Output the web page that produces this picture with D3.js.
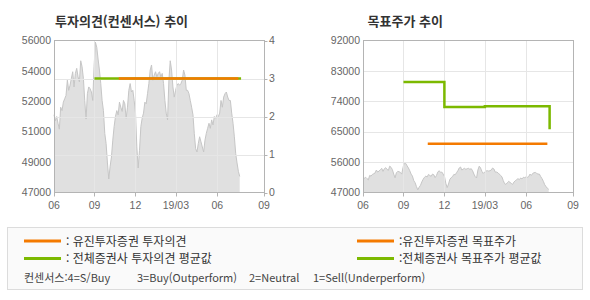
<!DOCTYPE html>
<html lang="ko">
<head>
<meta charset="utf-8">
<title>투자의견 / 목표주가 추이</title>
<script src="https://d3js.org/d3.v7.min.js"></script>
<style>
  body { margin: 0; background: #fff; }
  .ax { font-family: "Liberation Sans", Arial, sans-serif; font-size: 10.5px; fill: #666; }
  .kr { font-family: "Noto Sans CJK KR", sans-serif; }
</style>
</head>
<body>
<script>
var w = 590, h = 300;

// share price, sampled about every 3 days (Jun 2018 - Jul 2019)
var priceStart = "2018-06-03", priceEnd = "2019-07-21";
var prices = [
  51600, 51250, 51500, 51100, 50750, 52050, 51850, 52350, 52550, 52750,
  53650, 53050, 53350, 53750, 54150, 53250, 54050, 54350, 53850, 53550,
  54800, 54450, 53750, 52450, 51350, 52850, 53250, 53150, 52950, 52450,
  54450, 55900, 55600, 54900, 54250, 53450, 52450, 51850, 50500, 49900,
  48750, 47800, 48550, 49100, 50100, 50900, 51500, 51850, 51600, 52350,
  52050, 51800, 52450, 52250, 51400, 52050, 53050, 53450, 52950, 53050,
  52450, 51700, 49700, 48450, 49500, 50900, 51400, 51700, 52350, 52250,
  52850, 53450, 54250, 54550, 53650, 53950, 54150, 53850, 54050, 54150,
  53850, 54050, 53450, 52450, 51700, 51300, 53650, 54800, 54250, 53250,
  52650, 53050, 53350, 53450, 53350, 53450, 53650, 54250, 53950, 53050,
  53050, 52850, 52450, 52050, 51600, 50500, 49600, 49400, 49900, 50300,
  50000, 49700, 49400, 50100, 50500, 50800, 51100, 50800, 51300, 51000,
  51500, 51400, 51600, 51500, 51700, 52450, 52050, 52650, 52850, 52950,
  52650, 52450, 52450, 51700, 51100, 50300, 49300, 48750, 48250, 47950
];

// x axis
var xDomain = ["2018-06-03", "2019-09-13"];
var xTickDates = ["2018-06-03", "2018-09-01", "2018-12-01", "2019-03-01", "2019-06-01", "2019-09-13"];
var xTickLabels = ["06", "09", "12", "19/03", "06", "09"];

// y ticks
var priceTicks = [47000, 48800, 50600, 52400, 54200, 56000];
var opinionTicks = [0, 1, 2, 3, 4];
var targetTicks = [47000, 56000, 65000, 74000, 83000, 92000];

// opinion (4=S/Buy ... 1=Sell)
var eugeneOpinionDates = ["2018-10-25", "2019-07-18"];
var eugeneOpinion = [3, 3];
var avgOpinionDates = ["2018-09-01", "2019-07-24"];
var avgOpinion = [3, 3];

// target price
var eugeneTargetDates = ["2018-10-25", "2019-07-18"];
var eugeneTarget = [61400, 61400];
var avgTargetDates = ["2018-09-01", "2018-12-01", "2019-03-01", "2019-07-23"];
var avgTarget = [79700, 72300, 72500, 65700];

var orange = "#f47a00", green = "#7cb900";
var parse = d3.timeParse("%Y-%m-%d");

var t0 = parse(priceStart), t1 = parse(priceEnd);
var priceData = prices.map(function(v, i) {
  return { date: new Date(+t0 + (t1 - t0) * i / (prices.length - 1)), v: v };
});
function pairs(dates, vals) {
  return dates.map(function(d, i) { return { date: parse(d), v: vals[i] }; });
}

var svg = d3.select("body").append("svg")
  .attr("width", w).attr("height", h);

var plotTop = 40.5, plotBottom = 192.5;

function panel(left, yScale, hGrid, title, titleX) {
  var x = d3.scaleTime().domain(xDomain.map(parse)).range([left, left + 210]);
  var g = svg.append("g");

  g.append("text").attr("class", "kr")
    .attr("x", titleX).attr("y", 25.5)
    .attr("font-size", "13px").attr("font-weight", "bold").attr("fill", "#333")
    .text(title);

  // price area
  var area = d3.area().x(d => x(d.date)).y0(plotBottom).y1(d => yScale.price(d.v));
  g.append("path").datum(priceData).attr("d", area).attr("fill", "#e0e0e0");
  g.append("path").datum(priceData)
    .attr("d", d3.line().x(d => x(d.date)).y(d => yScale.price(d.v)))
    .attr("fill", "none").attr("stroke", "#c6c6c6").attr("stroke-width", 1);

  // grid
  g.selectAll(".hg").data(hGrid).enter().append("line")
    .attr("x1", left).attr("x2", left + 210)
    .attr("y1", d => Math.round(yScale.grid(d)) + 0.5)
    .attr("y2", d => Math.round(yScale.grid(d)) + 0.5)
    .attr("stroke", "#e6e6e6");
  var inner = xTickDates.slice(1, -1).map(parse);
  g.selectAll(".vg").data(inner).enter().append("line")
    .attr("x1", d => Math.round(x(d)) + 0.5).attr("x2", d => Math.round(x(d)) + 0.5)
    .attr("y1", plotTop).attr("y2", plotBottom)
    .attr("stroke", "#e6e6e6");

  // frame
  g.append("rect").attr("x", left + 0.5).attr("y", plotTop)
    .attr("width", 210).attr("height", plotBottom - plotTop)
    .attr("fill", "none").attr("stroke", "#b4b4b4");

  // x axis
  var xd = xTickDates.map(parse);
  g.selectAll(".xt").data(xd).enter().append("line")
    .attr("x1", d => Math.round(x(d)) + 0.5).attr("x2", d => Math.round(x(d)) + 0.5)
    .attr("y1", plotBottom).attr("y2", plotBottom + 4).attr("stroke", "#b4b4b4");
  g.selectAll(".xl").data(xd).enter().append("text").attr("class", "ax")
    .attr("x", d => x(d)).attr("y", 209)
    .attr("text-anchor", "middle")
    .text((d, i) => xTickLabels[i]);

  return { g: g, x: x };
}

// left panel: opinion
var yPriceL = d3.scaleLinear().domain([47000, 56000]).range([plotBottom, plotTop]);
var yOp = d3.scaleLinear().domain([0, 4]).range([plotBottom, plotTop]);
var L = panel(54, { price: yPriceL, grid: yOp }, [1, 2, 3], "투자의견(컨센서스) 추이", 55);

L.g.selectAll(".yl").data(priceTicks).enter().append("text").attr("class", "ax")
  .attr("x", 51).attr("y", d => yPriceL(d)).attr("dy", "0.35em")
  .attr("text-anchor", "end")
  .text(d => Math.round(d / 1000) * 1000);
L.g.selectAll(".yrt").data(opinionTicks).enter().append("line")
  .attr("x1", 264.5).attr("x2", 267.5)
  .attr("y1", d => Math.round(yOp(d)) + 0.5).attr("y2", d => Math.round(yOp(d)) + 0.5)
  .attr("stroke", "#b4b4b4");
L.g.selectAll(".yr").data(opinionTicks).enter().append("text").attr("class", "ax")
  .attr("x", 269).attr("y", d => yOp(d)).attr("dy", "0.35em")
  .text(d => d);

var lineL = d3.line().x(d => L.x(d.date)).y(d => yOp(d.v)).curve(d3.curveStepAfter);
L.g.append("path").datum(pairs(avgOpinionDates, avgOpinion)).attr("d", lineL)
  .attr("fill", "none").attr("stroke", green).attr("stroke-width", 2.5);
L.g.append("path").datum(pairs(eugeneOpinionDates, eugeneOpinion)).attr("d", lineL)
  .attr("fill", "none").attr("stroke", orange).attr("stroke-width", 2.5);

// right panel: target price
var yT = d3.scaleLinear().domain([47000, 92000]).range([plotBottom, plotTop]);
var R = panel(363, { price: yT, grid: yT }, targetTicks.slice(1, -1), "목표주가 추이", 367.5);

R.g.selectAll(".yl").data(targetTicks).enter().append("text").attr("class", "ax")
  .attr("x", 360).attr("y", d => yT(d)).attr("dy", "0.35em")
  .attr("text-anchor", "end")
  .text(d => d);

var lineR = d3.line().x(d => R.x(d.date)).y(d => yT(d.v)).curve(d3.curveStepAfter);
R.g.append("path").datum(pairs(avgTargetDates, avgTarget)).attr("d", lineR)
  .attr("fill", "none").attr("stroke", green).attr("stroke-width", 2.5);
R.g.append("path").datum(pairs(eugeneTargetDates, eugeneTarget)).attr("d", lineR)
  .attr("fill", "none").attr("stroke", orange).attr("stroke-width", 2.5);

// legend
var lg = svg.append("g");
lg.append("rect").attr("x", 7.5).attr("y", 227.5).attr("width", 575).attr("height", 62)
  .attr("fill", "#fafafa").attr("stroke", "#dcdcdc");

var legendItems = [
  { x: 24, y: 241, color: orange, text: ": 유진투자증권 투자의견" },
  { x: 24, y: 258.5, color: green, text: ": 전체증권사 투자의견 평균값" },
  { x: 357, y: 241, color: orange, text: ":유진투자증권 목표주가" },
  { x: 357, y: 258.5, color: green, text: ":전체증권사 목표주가 평균값" }
];
var li = lg.selectAll(".li").data(legendItems).enter().append("g");
li.append("line").attr("x1", d => d.x).attr("x2", d => d.x + 37)
  .attr("y1", d => d.y).attr("y2", d => d.y)
  .attr("stroke", d => d.color).attr("stroke-width", 3);
li.append("text").attr("class", "kr")
  .attr("x", d => d.x + 42).attr("y", d => d.y).attr("dy", "0.38em")
  .attr("font-size", "12px").attr("fill", "#333")
  .text(d => d.text);

var consensusText = ["컨센서스:4=S/Buy", "3=Buy(Outperform)", "2=Neutral", "1=Sell(Underperform)"];
var consensusX = [24, 137, 249, 313];
lg.selectAll(".ct").data(consensusText).enter().append("text").attr("class", "kr")
  .attr("x", (d, i) => consensusX[i]).attr("y", 277.5).attr("dy", "0.38em")
  .attr("font-size", "11px").attr("fill", "#444")
  .text(d => d);
</script>
</body>
</html>
